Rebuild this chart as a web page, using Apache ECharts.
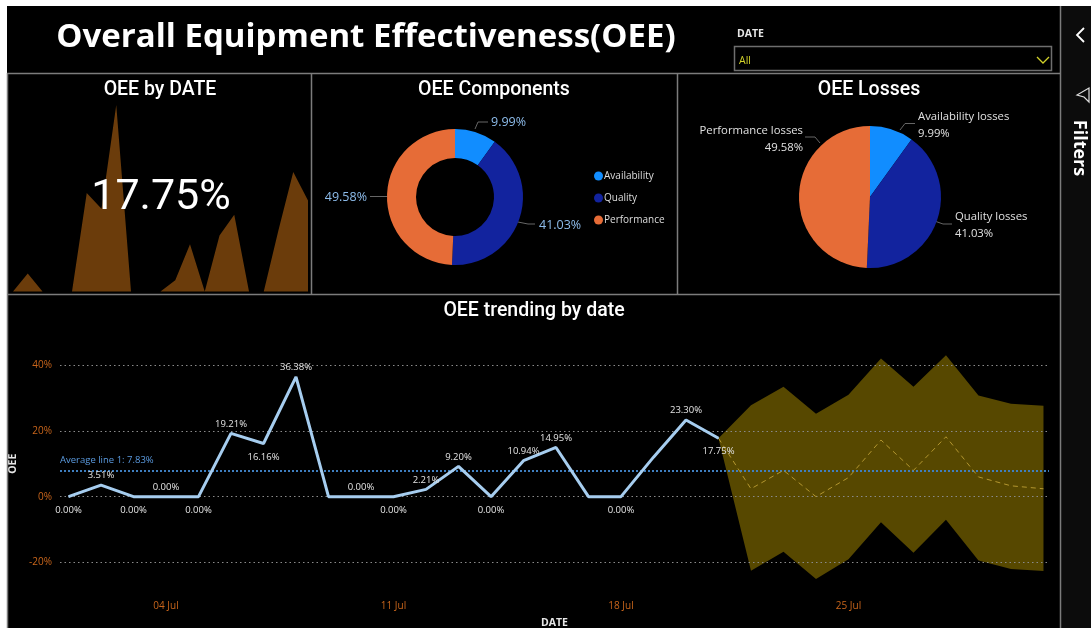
<!DOCTYPE html>
<html>
<head>
<meta charset="utf-8">
<style>html,body{margin:0;padding:0;background:#fff}#c{width:1091px;height:628px}</style>
<script src="https://cdn.jsdelivr.net/npm/echarts@6/dist/echarts.min.js"></script>
</head>
<body>
<div id="c"></div>
<script>
const days = [1,2,3,4,5,6,7,8,9,10,11,12,13,14,15,16,17,18,19,20,21];
const oee = [0,3.51,0,0,0,19.21,16.16,36.38,0,0,0,2.21,9.20,0,10.94,14.95,0,0,12,23.30,17.75];
const forecastDays = [21,22,23,24,25,26,27,28,29,30,31];
const forecast = [17.75,2.4,8,0,5.8,17.2,8,18.2,6,3.3,2.4];
const forecastUpper = [17.75,27.8,33.4,25.2,31,42,33.4,43,30.7,28.2,27.6];
const forecastLower = [17.75,-22.5,-16.7,-25,-19,-7.8,-17,-7,-19.4,-22,-22.6];
const averageLine = 7.83;
const xTickDays = [4,11,18,25];
const xTickLabels = ['04 Jul','11 Jul','18 Jul','25 Jul'];
const yTicks = [-20,0,20,40];
const componentNames = ['Availability','Quality','Performance'];
const lossNames = ['Availability losses','Quality losses','Performance losses'];
const shares = [9.99,41.03,49.58];
const sliceColors = ['#118DFF','#12239E','#E66C37'];
const kpi = '17.75%';

const belowDays = [1,3,5,7,11,14,18,21];
const unlabelledDays = [9,17,19];

const FONT = '"Open Sans"';
const HEAD = 'Roboto';
const frame = '#7c7c7c';

const donutLabels = [
  {x:491,y:122,align:'left',verticalAlign:'middle',labelLinePoints:[[475,129],[478,122],[488,122]]},
  {x:539,y:225,align:'left',verticalAlign:'middle',labelLinePoints:[[518,222],[528,224],[535,224]]},
  {x:367,y:197,align:'right',verticalAlign:'middle',labelLinePoints:[[388,196.5],[378,196.5],[370,196.5]]}
];
const pieLabels = [
  {x:918,y:125,align:'left',verticalAlign:'middle',labelLinePoints:[[900,130],[905,123.5],[915,123.5]]},
  {x:955,y:225,align:'left',verticalAlign:'middle',labelLinePoints:[[936,221.5],[943,224],[952,224]]},
  {x:803,y:139,align:'right',verticalAlign:'middle',labelLinePoints:[[820,143],[815,137],[805,137]]}
];

const chart = echarts.init(document.getElementById('c'));

function line(x1,y1,x2,y2,color,w){
  return {type:'line',silent:true,z:20,shape:{x1,y1,x2,y2},style:{stroke:color||frame,lineWidth:w||1.5}};
}
function txt(x,y,text,size,color,weight,extra){
  return Object.assign({type:'text',silent:true,z:21,x,y,style:{text,fontSize:size,fill:color,fontWeight:weight||'normal',fontFamily:FONT,verticalAlign:'middle'}},extra||{});
}
function head(text,left,top,size,font,weight){
  return {text,left,top,padding:0,textAlign:'center',textStyle:{color:'#fff',fontFamily:font,fontWeight:weight,fontSize:size}};
}

chart.setOption({
  animation:false,
  backgroundColor:'#000',
  title:[
    head('Overall Equipment Effectiveness(OEE)',366,21,33,FONT,'bold'),
    head('OEE by DATE',160,80,19.5,HEAD,500),
    head('OEE Components',494,80,19.5,HEAD,500),
    head('OEE Losses',869,80,19.5,HEAD,500),
    head('OEE trending by date',534,301,19.5,HEAD,500),
    head(kpi,161,177,43,HEAD,400)
  ],
  legend:{
    data:componentNames,orient:'vertical',left:589,top:166,icon:'circle',itemWidth:9,itemHeight:9,itemGap:12,
    selectedMode:false,textStyle:{color:'#ddd',fontFamily:FONT,fontSize:10,padding:[0,0,0,-4]}
  },
  grid:[
    {left:60,right:42,top:365,height:197.5,outerBoundsMode:'none'},
    {left:13,width:295,top:105,height:186.5,outerBoundsMode:'none'}
  ],
  xAxis:[
    {type:'value',gridIndex:0,min:0.738,max:31.17,
      axisLine:{show:false},axisTick:{show:false},splitLine:{show:false},
      axisLabel:{customValues:xTickDays,margin:39,color:'#c8651b',fontFamily:FONT,fontSize:10,
        formatter:v=>xTickLabels[xTickDays.indexOf(v)]},
      name:'DATE',nameLocation:'middle',nameGap:55,nameTextStyle:{color:'#e6e6e6',fontFamily:FONT,fontWeight:'bold',fontSize:10.5}},
    {type:'value',gridIndex:1,min:1,max:21,show:false}
  ],
  yAxis:[
    {type:'value',gridIndex:0,min:-20,max:40,interval:20,z:3,
      axisLine:{show:false},axisTick:{show:false},
      splitLine:{lineStyle:{color:'#8a8a8a',type:[1.5,3],width:1}},
      axisLabel:{margin:8,color:'#c8651b',fontFamily:FONT,fontSize:10,formatter:v=>yTicks.includes(v)?v+'%':''},
      name:'OEE',nameLocation:'middle',nameGap:34,nameRotate:90,nameTextStyle:{color:'#e6e6e6',fontFamily:FONT,fontWeight:'bold',fontSize:10.5}},
    {type:'value',gridIndex:1,min:0,max:36.38,show:false}
  ],
  series:[
    {name:'Confidence band',type:'custom',xAxisIndex:0,yAxisIndex:0,silent:true,clip:false,z:1,
      encode:{x:0,y:[1,2]},
      data:forecastDays.map((d,i)=>[d,forecastLower[i],forecastUpper[i]]),
      renderItem:(params,api)=>{
        if(params.dataIndex!==0) return null;
        const top=forecastDays.map((d,i)=>api.coord([d,forecastUpper[i]]));
        const low=forecastDays.map((d,i)=>api.coord([d,forecastLower[i]])).reverse();
        return {type:'polygon',shape:{points:top.concat(low)},style:{fill:'#574800'}};
      }},
    {name:'Forecast',type:'line',xAxisIndex:0,yAxisIndex:0,clip:false,symbol:'none',z:4,
      lineStyle:{color:'#b3962f',width:1,type:[5,4]},
      data:forecastDays.map((d,i)=>[d,forecast[i]])},
    {name:'OEE',type:'line',xAxisIndex:0,yAxisIndex:0,z:5,symbol:'circle',symbolSize:1,showAllSymbol:true,
      lineStyle:{color:'#A6CDEF',width:3},itemStyle:{color:'#A6CDEF'},
      label:{show:true,color:'#e4e4e4',fontFamily:FONT,fontSize:9.5,formatter:p=>p.value[1].toFixed(2)+'%'},
      data:days.map((d,i)=>{
        const below=belowDays.includes(d);
        return {value:[d,oee[i]],label:{show:!unlabelledDays.includes(d),position:below?'bottom':'top',distance:below?8:4}};
      }),
      markLine:{silent:true,symbol:'none',z:4,
        lineStyle:{color:'#3f7fc0',type:[2,2],width:2},
        label:{position:'insideStartTop',formatter:'Average line 1: 7.83%',color:'#5b9be0',fontFamily:FONT,fontSize:9.5,distance:[0,6]},
        data:[{yAxis:averageLine}]}},
    {name:'OEE by DATE',type:'line',xAxisIndex:1,yAxisIndex:1,symbol:'none',silent:true,z:1,
      lineStyle:{opacity:0},areaStyle:{color:'#6B3C0B',opacity:1},
      data:days.map((d,i)=>[d,oee[i]])},
    {name:'OEE Components',type:'pie',center:[455,197],radius:[39,68],startAngle:90,clockwise:true,silent:true,
      itemStyle:{borderWidth:0},
      label:{color:'#8DBCEB',fontFamily:FONT,fontSize:12.5,formatter:p=>p.value.toFixed(2)+'%'},
      labelLine:{lineStyle:{color:'#666',width:1}},
      labelLayout:p=>donutLabels[p.dataIndex],
      data:componentNames.map((n,i)=>({name:n,value:shares[i],itemStyle:{color:sliceColors[i]}}))},
    {name:'OEE Losses',type:'pie',center:[870,197],radius:[0,71],startAngle:90,clockwise:true,silent:true,
      itemStyle:{borderWidth:0},
      label:{color:'#e0e0e0',fontFamily:FONT,fontSize:11.3,lineHeight:17,formatter:p=>p.name+'\n'+p.value.toFixed(2)+'%'},
      labelLine:{lineStyle:{color:'#666',width:1}},
      labelLayout:p=>pieLabels[p.dataIndex],
      data:lossNames.map((n,i)=>({name:n,value:shares[i],itemStyle:{color:sliceColors[i]}}))}
  ],
  graphic:[
    {type:'rect',silent:true,z:19,shape:{x:0,y:0,width:1091,height:6},style:{fill:'#fff'}},
    {type:'rect',silent:true,z:19,shape:{x:0,y:0,width:7,height:628},style:{fill:'#fff'}},
    {type:'rect',silent:true,z:19,shape:{x:1061,y:6,width:30,height:622},style:{fill:'#0c0c0c'}},
    line(7.5,73,7.5,628),
    line(1060.5,6,1060.5,628),
    line(7,73.5,1060,73.5),
    line(7,294.5,1060,294.5),
    line(311.5,73,311.5,294),
    line(677.5,73,677.5,294),
    {type:'rect',silent:true,z:20,shape:{x:734.5,y:46.5,width:317,height:24},style:{fill:'none',stroke:'#6e6e6e',lineWidth:1.5}},
    txt(737,34,'DATE',10.5,'#e6e6e6','bold'),
    txt(739,61,'All',10.5,'#d3d32a','normal'),
    {type:'polyline',silent:true,z:21,shape:{points:[[1037,57],[1043,63],[1049,57]]},style:{fill:'none',stroke:'#d3d32a',lineWidth:1.3}},
    {type:'polyline',silent:true,z:21,shape:{points:[[1084,28],[1077,35],[1084,42]]},style:{fill:'none',stroke:'#fff',lineWidth:1.8}},
    {type:'polygon',silent:true,z:21,shape:{points:[[1089,88],[1089,102],[1084,97],[1077,95]]},style:{fill:'none',stroke:'#ddd',lineWidth:1.2}},
    {type:'text',silent:true,z:21,x:1079,y:148,rotation:-Math.PI/2,style:{text:'Filters',fontSize:18,fontWeight:'bold',fill:'#fff',fontFamily:FONT,align:'center',verticalAlign:'middle'}}
  ]
});
</script>
</body>
</html>
